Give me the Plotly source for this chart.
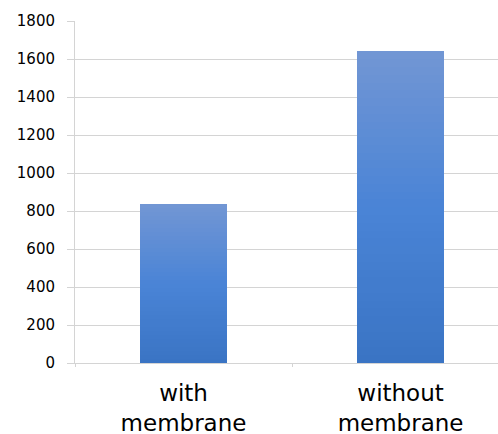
import plotly.graph_objects as go

categories = ["with<br>membrane", "without<br>membrane"]
values = [835, 1640]
y_ticks = [0, 200, 400, 600, 800, 1000, 1200, 1400, 1600, 1800]

# gradient colours (bottom -> middle -> top)
grad_stops = [(0.0, (58, 116, 196)), (0.5, (74, 132, 214)), (1.0, (114, 150, 212))]
n_seg = 40


def interp(t):
    for (t0, c0), (t1, c1) in zip(grad_stops[:-1], grad_stops[1:]):
        if t0 <= t <= t1:
            f = (t - t0) / (t1 - t0)
            return "rgb(%d,%d,%d)" % tuple(round(a + (b - a) * f) for a, b in zip(c0, c1))
    return "rgb(%d,%d,%d)" % grad_stops[-1][1]


fig = go.Figure()
for k in range(n_seg):
    t = (k + 0.5) / n_seg
    fig.add_trace(go.Bar(
        x=categories,
        y=[v / n_seg for v in values],
        width=0.4,
        marker=dict(color=interp(t), line=dict(width=0)),
        showlegend=False,
        hoverinfo="skip",
    ))

grid = "#d4d4d4"
fig.update_layout(
    barmode="stack",
    width=498,
    height=434,
    margin=dict(l=75, r=0, t=21, b=71),
    plot_bgcolor="white",
    paper_bgcolor="white",
    font=dict(family="DejaVu Sans", color="black"),
    xaxis=dict(
        range=[-0.5, 1.449],
        tickfont=dict(size=23),
        showline=True,
        linecolor=grid,
        linewidth=1,
        ticks="outside",
        tickson="boundaries",
        ticklen=3,
        tickcolor=grid,
        showgrid=False,
        ticklabelstandoff=9,
        automargin=False,
    ),
    yaxis=dict(
        range=[0, 1800],
        tickvals=y_ticks,
        tickfont=dict(size=15),
        showgrid=True,
        gridcolor=grid,
        gridwidth=1,
        showline=True,
        linecolor=grid,
        zeroline=False,
        ticks="outside",
        ticklen=7,
        tickcolor=grid,
        ticklabelstandoff=9,
        automargin=False,
    ),
)

fig.write_html("out.html")
